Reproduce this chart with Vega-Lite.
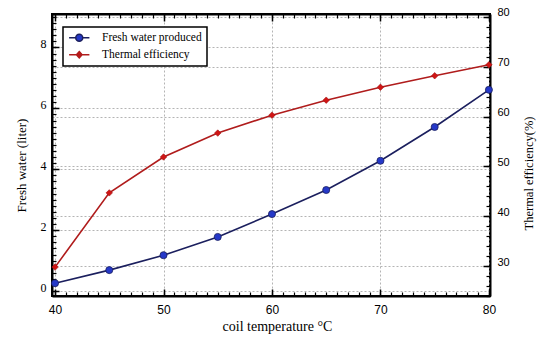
{
  "$schema": "https://vega.github.io/schema/vega-lite/v6.json",
  "width": 438,
  "height": 282,
  "autosize": {"type": "none"},
  "padding": {"left": 52, "top": 14, "right": 50, "bottom": 41},
  "background": "white",
  "config": {
    "view": {"stroke": "black", "strokeWidth": 2},
    "axis": {"tickColor": "black", "domainColor": "black", "labelColor": "black", "titleColor": "black", "titleFontWeight": "normal", "gridColor": "#b4b4b4", "gridDash": [2, 2], "gridWidth": 1},
    "legend": {"orient": "none", "legendX": 11, "legendY": 13, "strokeColor": "black", "strokeWidth": 1.5, "fillColor": "white", "padding": 5, "rowPadding": 3, "labelFont": "Liberation Serif", "labelFontSize": 11.5, "labelColor": "black", "symbolSize": 49, "symbolOffset": 5.5, "labelOffset": 17, "symbolStrokeWidth": 1.5}
  },
  "data": {
    "values": [
      {"temp": 40, "water": 0.26, "efficiency": 29.8},
      {"temp": 45, "water": 0.69, "efficiency": 44.7},
      {"temp": 50, "water": 1.18, "efficiency": 51.9},
      {"temp": 55, "water": 1.78, "efficiency": 56.7},
      {"temp": 60, "water": 2.53, "efficiency": 60.3},
      {"temp": 65, "water": 3.32, "efficiency": 63.3},
      {"temp": 70, "water": 4.28, "efficiency": 65.9},
      {"temp": 75, "water": 5.39, "efficiency": 68.2},
      {"temp": 80, "water": 6.61, "efficiency": 70.4}
    ]
  },
  "layer": [
    {
      "layer": [
        {
          "mark": {"type": "line", "color": "#1b1f5e", "strokeWidth": 1.6},
          "encoding": {
            "x": {"field": "temp", "type": "quantitative", "scale": {"domain": [39.72, 80.1], "nice": false, "zero": false},
              "axis": {"orient": "bottom", "values": [40, 50, 60, 70, 80], "tickSize": -7, "tickWidth": 1.5, "labelPadding": 15, "labelFont": "Liberation Sans", "labelFontSize": 12, "domainWidth": 2, "grid": true, "title": "coil temperature °C", "titleFont": "Liberation Serif", "titleFontSize": 14, "titlePadding": 4, "titleX": 225}},
            "y": {"field": "water", "type": "quantitative", "scale": {"domain": [-0.16, 9.1], "nice": false, "zero": false},
              "axis": {"orient": "left", "values": [0, 2, 4, 6, 8], "tickSize": -7, "tickWidth": 1.5, "labelPadding": 13, "labelOffset": -4, "labelFont": "Liberation Serif", "labelFontSize": 12, "domainWidth": 2, "grid": true, "title": "Fresh water (liter)", "titleFont": "Liberation Serif", "titleFontSize": 13, "titlePadding": 12, "titleY": 151}}
          }
        },
        {
          "mark": {"type": "point", "shape": "circle", "filled": true, "size": 50, "color": "#2538c8", "stroke": "#1b1f5e", "strokeWidth": 0.8, "opacity": 1},
          "encoding": {
            "x": {"field": "temp", "type": "quantitative",
              "axis": {"orient": "bottom", "values": [40,41,42,43,44,45,46,47,48,49,50,51,52,53,54,55,56,57,58,59,60,61,62,63,64,65,66,67,68,69,70,71,72,73,74,75,76,77,78,79,80], "tickSize": -4, "tickWidth": 1.2, "labels": false, "domain": false, "grid": false, "title": null}},
            "y": {"field": "water", "type": "quantitative",
              "axis": {"orient": "left", "values": [0,0.2,0.4,0.6,0.8,1,1.2,1.4,1.6,1.8,2,2.2,2.4,2.6,2.8,3,3.2,3.4,3.6,3.8,4,4.2,4.4,4.6,4.8,5,5.2,5.4,5.6,5.8,6,6.2,6.4,6.6,6.8,7,7.2,7.4,7.6,7.8,8,8.2,8.4,8.6,8.8,9], "tickSize": -4, "tickWidth": 1.2, "labels": false, "domain": false, "grid": false, "title": null}}
          }
        },
        {
          "transform": [{"filter": "false"}],
          "mark": {"type": "point", "filled": true, "opacity": 1, "strokeWidth": 1.5},
          "encoding": {
            "fill": {"datum": "Fresh water produced", "type": "nominal", "title": null, "scale": {"domain": ["Fresh water produced", "Thermal efficiency"], "range": ["#2538c8", "#d01515"]}},
            "stroke": {"datum": "Fresh water produced", "type": "nominal", "title": null, "scale": {"domain": ["Fresh water produced", "Thermal efficiency"], "range": ["#1b1f5e", "#b01c1c"]}},
            "shape": {"datum": "Fresh water produced", "type": "nominal", "title": null, "scale": {"domain": ["Fresh water produced", "Thermal efficiency"], "range": ["M-2.9,0H-1M1,0H2.9M1,0A1,1 0 1,1 -1,0A1,1 0 1,1 1,0Z", "M-2.9,0H2.9M0,-0.9L0.8,0L0,0.9L-0.8,0Z"]}}
          }
        }
      ],
      "resolve": {"axis": {"x": "independent", "y": "independent"}}
    },
    {
      "layer": [
        {
          "mark": {"type": "line", "color": "#b01c1c", "strokeWidth": 1.6},
          "encoding": {
            "x": {"field": "temp", "type": "quantitative",
              "axis": {"orient": "top", "values": [40, 50, 60, 70, 80], "tickSize": -7, "tickWidth": 1.5, "labels": false, "domainWidth": 2, "grid": false, "title": null}},
            "y": {"field": "efficiency", "type": "quantitative", "scale": {"domain": [24.0, 80.6], "nice": false, "zero": false},
              "axis": {"orient": "right", "values": [30, 40, 50, 60, 70, 80], "tickSize": -7, "tickWidth": 1.5, "labelPadding": 14, "labelOffset": -4, "labelFont": "Liberation Sans", "labelFontSize": 11, "domainWidth": 2, "grid": true, "title": "Thermal efficiency(%)", "titleFont": "Liberation Serif", "titleFontSize": 12.5, "titleAngle": 270, "titlePadding": 26, "titleY": 159}}
          }
        },
        {
          "mark": {"type": "point", "shape": "diamond", "filled": true, "size": 42, "color": "#d01515", "stroke": "#a01010", "strokeWidth": 0.6, "opacity": 1},
          "encoding": {
            "x": {"field": "temp", "type": "quantitative",
              "axis": {"orient": "top", "values": [40,41,42,43,44,45,46,47,48,49,50,51,52,53,54,55,56,57,58,59,60,61,62,63,64,65,66,67,68,69,70,71,72,73,74,75,76,77,78,79,80], "tickSize": -4, "tickWidth": 1.2, "labels": false, "domain": false, "grid": false, "title": null}},
            "y": {"field": "efficiency", "type": "quantitative",
              "axis": {"orient": "right", "values": [24,26,28,30,32,34,36,38,40,42,44,46,48,50,52,54,56,58,60,62,64,66,68,70,72,74,76,78,80], "tickSize": -4, "tickWidth": 1.2, "labels": false, "domain": false, "grid": false, "title": null}}
          }
        }
      ],
      "resolve": {"axis": {"x": "independent", "y": "independent"}}
    }
  ],
  "resolve": {"scale": {"y": "independent"}, "axis": {"x": "independent", "y": "independent"}}
}
